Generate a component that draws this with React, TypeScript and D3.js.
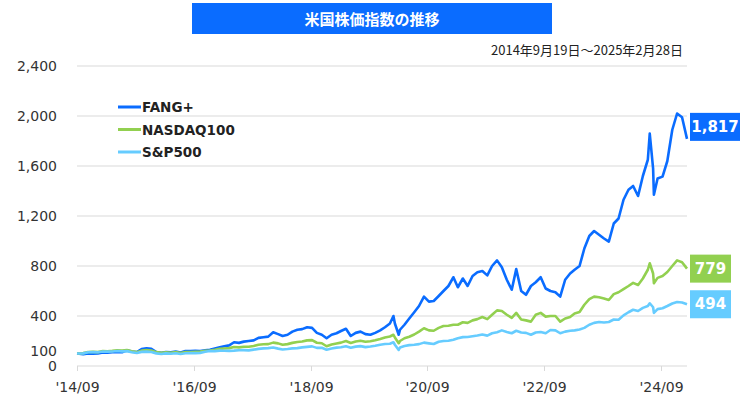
import React from "react";
import * as d3 from "d3";

const dates: string[] = [
  "2014-09-19", "2014-10-28", "2014-11-28", "2014-12-28",
  "2015-01-28", "2015-02-28", "2015-03-28", "2015-04-28", "2015-05-28", "2015-06-28", "2015-07-28", "2015-08-28", "2015-09-28", "2015-10-28", "2015-11-28", "2015-12-28",
  "2016-01-28", "2016-02-28", "2016-03-28", "2016-04-28", "2016-05-28", "2016-06-28", "2016-07-28", "2016-08-28", "2016-09-28", "2016-10-28", "2016-11-28", "2016-12-28",
  "2017-01-28", "2017-02-28", "2017-03-28", "2017-04-28", "2017-05-28", "2017-06-28", "2017-07-28", "2017-08-28", "2017-09-28", "2017-10-28", "2017-11-28", "2017-12-28",
  "2018-01-28", "2018-02-28", "2018-03-28", "2018-04-28", "2018-05-28", "2018-06-28", "2018-07-28", "2018-08-28", "2018-09-28", "2018-10-28", "2018-11-28", "2018-12-28",
  "2019-01-28", "2019-02-28", "2019-03-28", "2019-04-28", "2019-05-28", "2019-06-28", "2019-07-28", "2019-08-28", "2019-09-28", "2019-10-28", "2019-11-28", "2019-12-28",
  "2020-01-28", "2020-02-19", "2020-02-28", "2020-03-23", "2020-03-31", "2020-04-28", "2020-05-28", "2020-06-28", "2020-07-28", "2020-08-28", "2020-09-28", "2020-10-28", "2020-11-28", "2020-12-28",
  "2021-01-28", "2021-02-28", "2021-03-28", "2021-04-28", "2021-05-28", "2021-06-28", "2021-07-28", "2021-08-28", "2021-09-28", "2021-10-28", "2021-11-28", "2021-12-28",
  "2022-01-28", "2022-02-28", "2022-03-28", "2022-04-28", "2022-05-28", "2022-06-28", "2022-07-28", "2022-08-28", "2022-09-28", "2022-10-28", "2022-11-28", "2022-12-28",
  "2023-01-28", "2023-02-28", "2023-03-28", "2023-04-28", "2023-05-28", "2023-06-28", "2023-07-28", "2023-08-28", "2023-09-28", "2023-10-28", "2023-11-28", "2023-12-28",
  "2024-01-28", "2024-02-28", "2024-03-28", "2024-04-28", "2024-05-28", "2024-06-28", "2024-07-10", "2024-07-31", "2024-08-05", "2024-08-28", "2024-09-28", "2024-10-28", "2024-11-28", "2024-12-28",
  "2025-01-28", "2025-02-28",
];

const fangValues: number[] = [
  100, 95, 101, 98,
  100, 108, 106, 110, 112, 110, 125, 115, 112, 135, 142, 138,
  112, 105, 112, 110, 115, 108, 120, 120, 122, 120, 125, 130,
  140, 150, 158, 165, 190, 185, 195, 200, 205, 225, 230, 235,
  270, 255, 240, 250, 275, 290, 295, 310, 305, 265, 250, 222,
  250, 262, 280, 298, 240, 265, 275, 255, 250, 265, 285, 310,
  340, 400, 340, 250, 290, 330, 380, 430, 480, 555, 515, 520, 560, 600,
  640, 710, 630, 700, 640, 720, 750, 760, 725, 800, 845, 790,
  690, 610, 775, 600, 570, 640, 670, 710, 620, 600, 590, 555,
  690, 740, 770, 800, 940, 1040, 1080, 1050, 1020, 995, 1140, 1180,
  1330, 1410, 1440, 1360, 1520, 1650, 1860, 1580, 1370, 1500, 1515, 1640, 1890, 2020,
  1990, 1817,
];

const nasdaqValues: number[] = [
  100, 103, 112, 113,
  111, 120, 118, 121, 126, 123, 127, 117, 111, 123, 127, 124,
  111, 105, 110, 106, 111, 103, 111, 112, 114, 115, 121, 124,
  130, 137, 140, 143, 152, 149, 154, 154, 160, 170, 174, 175,
  187, 181, 170, 175, 185, 192, 196, 205, 207, 186, 182, 158,
  172, 180, 187, 200, 184, 196, 202, 194, 198, 206, 216, 228,
  236, 250, 228, 182, 200, 222, 234, 252, 275, 302, 285, 282, 305, 320,
  322, 330, 330, 350, 345, 365, 375, 392, 375, 410, 445, 440,
  410, 385, 425, 372, 365, 355, 410, 425, 395, 400, 400, 355,
  380, 392, 420, 432, 490, 535, 555, 550, 540, 528, 575, 590,
  615, 640, 665, 648, 700, 770, 822, 740, 662, 705, 720, 752, 800, 845,
  830, 779,
];

const spValues: number[] = [
  100, 101, 110, 112,
  110, 116, 115, 116, 120, 117, 119, 110, 104, 113, 115, 112,
  101, 96, 101, 98, 102, 96, 102, 103, 103, 105, 114, 120,
  119, 123, 122, 121, 123, 126, 127, 125, 131, 137, 141, 143,
  148, 139, 132, 136, 141, 143, 149, 153, 157, 145, 146, 130,
  140, 147, 150, 158, 146, 155, 159, 151, 156, 162, 170, 176,
  178, 190, 170, 128, 148, 160, 167, 170, 175, 187, 181, 176, 194, 200,
  202, 210, 222, 231, 232, 238, 244, 252, 243, 262, 270, 285,
  272, 262, 282, 268, 265, 250, 268, 272, 262, 288, 285, 262,
  275, 282, 285, 292, 305, 330, 345, 352, 348, 352, 372, 370,
  405, 430, 450, 440, 465, 480, 502, 470, 425, 455, 462, 480, 500, 512,
  508, 494,
];

const seriesNames = ["FANG+", "NASDAQ100", "S&P500"];
const seriesColors = ["#0a6cff", "#92d050", "#66ccff"];
const yGridTicks = [400, 800, 1200, 1600, 2000, 2400];
const yLabelTicks = [0, 100, 400, 800, 1200, 1600, 2000, 2400];
const xTickDates = ["2014-09-19", "2016-09-19", "2018-09-19", "2020-09-19", "2022-09-19", "2024-09-19"];
const xTickLabels = ["'14/09", "'16/09", "'18/09", "'20/09", "'22/09", "'24/09"];
const titleText = "米国株価指数の推移";
const subtitleText = "2014年9月19日～2025年2月28日";

const W = 743;
const H = 397;
const parse = d3.timeParse("%Y-%m-%d");
const latin = "'DejaVu Sans', Verdana, sans-serif";
const cjk = "'Noto Sans CJK JP', sans-serif";

export default function App() {
  const parsed = dates.map((d) => parse(d) as Date);
  const x = d3.scaleTime().domain([parsed[0], parsed[parsed.length - 1]]).range([77, 687]);
  const y = d3.scaleLinear().domain([0, 2400]).range([366, 66]);
  const all = [fangValues, nasdaqValues, spValues];
  const line = d3
    .line<number>()
    .x((_, i) => x(parsed[i]))
    .y((v) => y(v));
  const fmt = d3.format(",");
  const labelOffsets = [-12, 0, 0];
  const drawOrder = [0, 1, 2];

  return (
    <svg width={W} height={H} style={{ position: "absolute", left: 0, top: 0, background: "#fff" }}>
      {/* title */}
      <rect x={192} y={3} width={360} height={31} fill="#0a6cff" />
      <text x={372} y={18.5} textAnchor="middle" dominantBaseline="central" fill="#fff" fontFamily={cjk} fontWeight={700} fontSize={15}>
        {titleText}
      </text>
      <text x={683} y={49} textAnchor="end" dominantBaseline="central" fill="#222" fontFamily={cjk} fontSize={13}>
        {subtitleText}
      </text>

      {/* grid */}
      {yGridTicks.map((t) => (
        <line key={t} x1={77} x2={687} y1={y(t)} y2={y(t)} stroke="#d9d9d9" strokeWidth={1} />
      ))}
      <line x1={77} x2={687} y1={y(0)} y2={y(0)} stroke="#d9d9d9" strokeWidth={1} />
      {xTickDates.map((d, i) => {
        const xx = Math.round(x(parse(d) as Date)) + 0.5;
        return (
          <g key={d}>
            <line x1={xx} x2={xx} y1={y(0)} y2={y(0) + 5} stroke="#d9d9d9" strokeWidth={1} />
            <text x={xx} y={387} textAnchor="middle" dominantBaseline="central" fontFamily={latin} fontSize={14} fill="#333">
              {xTickLabels[i]}
            </text>
          </g>
        );
      })}
      {yLabelTicks.map((t) => (
        <text key={t} x={57} y={y(t) + (t === 100 ? -3 : 0)} textAnchor="end" dominantBaseline="central" fontFamily={latin} fontSize={14} fill="#333">
          {fmt(t)}
        </text>
      ))}

      {/* lines */}
      {drawOrder.map((k) => (
        <path key={k} d={line(all[k]) || ""} fill="none" stroke={seriesColors[k]} strokeWidth={2.6} strokeLinejoin="round" />
      ))}

      {/* legend */}
      {seriesNames.map((n, i) => (
        <g key={n}>
          <line x1={118} x2={141} y1={107 + i * 22.5} y2={107 + i * 22.5} stroke={seriesColors[i]} strokeWidth={3} />
          <text x={142} y={107 + i * 22.5} dominantBaseline="central" fontFamily={latin} fontWeight={700} fontSize={13.5} fill="#222">
            {n}
          </text>
        </g>
      ))}

      {/* end labels */}
      {all.map((vals, i) => {
        const v = vals[vals.length - 1];
        const txt = fmt(v);
        const w = i === 0 ? 50 : 41;
        const cy = y(v) + labelOffsets[i];
        return (
          <g key={i}>
            <rect x={690} y={cy - 14} width={w} height={28} fill={seriesColors[i]} />
            <text x={690 + w / 2} y={cy} textAnchor="middle" dominantBaseline="central" fontFamily={latin} fontWeight={700} fontSize={15} fill="#fff">
              {txt}
            </text>
          </g>
        );
      })}
    </svg>
  );
}
